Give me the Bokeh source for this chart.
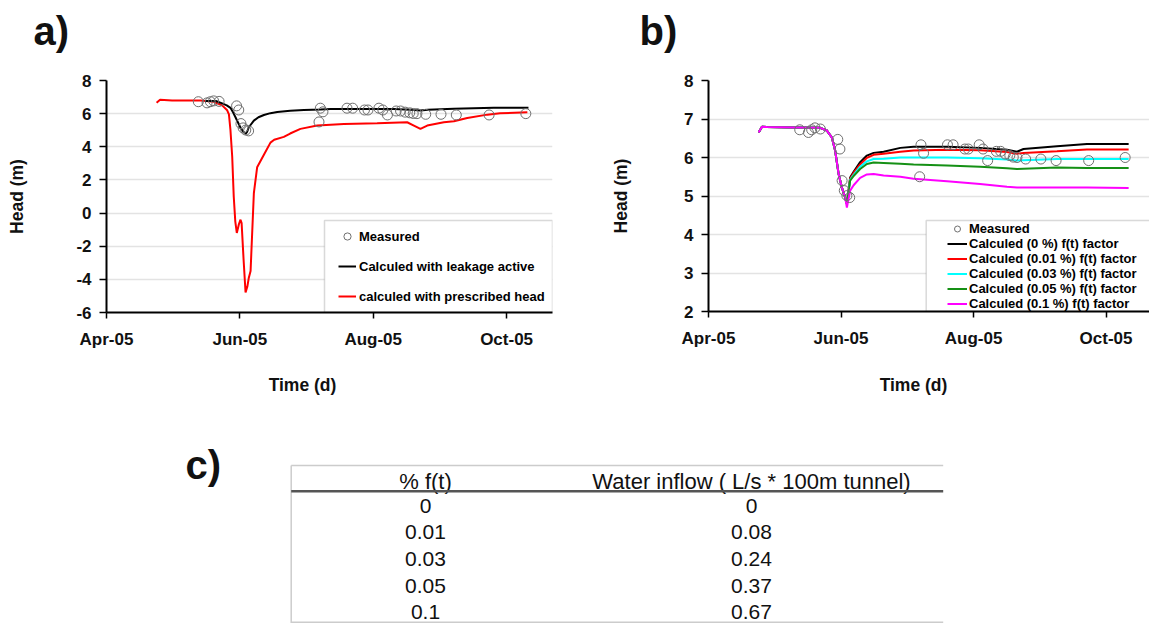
import numpy as np
import pandas as pd
from bokeh.plotting import figure
from bokeh.models import (Range1d, FixedTicker, DatetimeTickFormatter,
                          Legend, LegendItem, BoxAnnotation)
from bokeh.layouts import column, row
from bokeh.embed import file_html
from bokeh.resources import INLINE
from bokeh.core.properties import value

# ---------------- data (days counted from START) ----------------
START = "2005-04-01"
TICK_DATES = ["2005-04-01", "2005-06-01", "2005-08-01", "2005-10-01"]

MEAS_DAYS = [42, 46, 47.5, 49, 51.5, 59.5, 60.5, 61.5, 62.5, 63.7, 65, 97.2, 97.8, 99,
             110, 112.6, 118, 119.6, 124.6, 126.4, 128.5, 132.5, 134.5, 136.6, 138.7,
             140.3, 142, 146, 153, 160, 175, 191.8]
MEAS_HEAD = [6.72, 6.65, 6.72, 6.77, 6.74, 6.47, 6.22, 5.40, 5.14, 5.01, 4.96, 5.50, 6.33, 6.11,
             6.33, 6.33, 6.22, 6.22, 6.33, 6.22, 5.92, 6.16, 6.16, 6.09, 6.05,
             6.01, 6.00, 5.96, 5.96, 5.92, 5.92, 6.00]

# panel a
A_LEAK_DAYS = [45, 50, 52.9, 55, 56.7, 58, 59, 60.2, 61.3, 62.5, 63.6, 64.3, 65.1, 67.4, 69.5,
               72, 75, 78.1, 84, 90.3, 97.9, 102.5, 115, 131.4, 139, 143.6, 147, 158.9, 177.2, 193]
A_LEAK_HEAD = [6.76, 6.76, 6.62, 6.5, 6.35, 6.05, 5.78, 5.45, 5.15, 4.92, 4.78, 4.9, 5.18, 5.58, 5.78,
               5.92, 6.03, 6.1, 6.17, 6.22, 6.25, 6.28, 6.28, 6.28, 6.24, 6.19, 6.24, 6.29, 6.35, 6.35]
A_PRESC_DAYS = [22.9, 24.5, 30, 43, 49.1, 52.9, 55.2, 56.0, 56.7, 57.5, 58.2, 58.9, 59.6, 60.5, 61.3,
                61.8, 62.7, 63.6, 64.4, 65.1, 65.9, 66.6, 67.4, 68.9, 72.3, 75, 76.7, 81.1, 84, 88.7,
                96.4, 108.6, 123.8, 137.5, 140.6, 143.6, 146.7, 154.3, 158.9, 165, 174.2, 180, 192.5]
A_PRESC_HEAD = [6.66, 6.84, 6.8, 6.8, 6.72, 6.5, 6.2, 5.95, 5.0, 3.4, 1.0, -0.5, -1.2, -0.7, -0.4,
                -0.6, -2.8, -4.79, -4.45, -3.9, -3.5, -1.3, 1.2, 2.76, 3.6, 4.25, 4.42, 4.6, 4.8, 5.08,
                5.28, 5.38, 5.42, 5.48, 5.28, 5.08, 5.28, 5.48, 5.54, 5.74, 5.94, 6.02, 6.09]

# panel b : shared early part, then one tail per f(t) factor
B_EARLY_DAYS = [23.1, 24.6, 26.9, 40, 51.4, 54.5, 56.8, 58.3, 59.9, 61.4, 62.9]
B_EARLY_HEAD = [6.65, 6.80, 6.79, 6.78, 6.77, 6.70, 6.52, 6.18, 5.57, 5.22, 4.96]
B_TAIL_DAYS = [63.7, 65.2, 66.8, 69.8, 72.9, 76, 80.6, 88.3, 94.4, 109.8, 125, 137.4, 142, 145,
               160.4, 174.2, 193.4]
B_F000 = [4.80, 5.48, 5.63, 5.88, 6.05, 6.12, 6.15, 6.25, 6.28, 6.28, 6.25, 6.20, 6.15, 6.22, 6.29, 6.35, 6.35]
B_F001 = [4.80, 5.45, 5.60, 5.82, 5.99, 6.07, 6.10, 6.15, 6.18, 6.20, 6.19, 6.14, 6.10, 6.12, 6.16, 6.21, 6.21]
B_F003 = [4.80, 5.42, 5.55, 5.76, 5.90, 5.96, 5.97, 6.00, 6.00, 6.00, 5.98, 5.95, 5.92, 5.93, 5.96, 5.96, 5.96]
B_F005 = [4.80, 5.40, 5.52, 5.70, 5.83, 5.87, 5.86, 5.84, 5.82, 5.79, 5.76, 5.72, 5.70, 5.71, 5.74, 5.73, 5.73]
B_F010 = [4.70, 5.14, 5.28, 5.47, 5.56, 5.57, 5.53, 5.50, 5.45, 5.38, 5.31, 5.24, 5.22, 5.22, 5.22, 5.22, 5.21]
B_SERIES = [("Calculed (0 %) f(t) factor", B_F000, "#000000"),
            ("Calculed (0.01 %) f(t) factor", B_F001, "#ff0000"),
            ("Calculed (0.03 %) f(t) factor", B_F003, "#00ffff"),
            ("Calculed (0.05 %) f(t) factor", B_F005, "#159015"),
            ("Calculed (0.1 %) f(t) factor", B_F010, "#ff00ff")]

# panel c table
TABLE_HEAD = ["% f(t)", "Water inflow ( L/s * 100m tunnel)"]
FT_PCT = ["0", "0.01", "0.03", "0.05", "0.1"]
INFLOW = ["0", "0.08", "0.24", "0.37", "0.67"]

PANEL_TAGS = ["a)", "b)", "c)"]
X_TITLE = "Time (d)"
Y_TITLE = "Head (m)"

# ---------------- helpers ----------------
DAY_MS = 86400000.0
T0 = pd.Timestamp(START).value / 1e6
TICKS = [pd.Timestamp(d).value / 1e6 for d in TICK_DATES]
FONT = "Liberation Sans"
W = 1149
TOP_H = 62          # strip holding the a) / b) tags
ROW_H = 298         # row with the two charts
BOT_H = 623 - TOP_H - ROW_H


def t(days):
    return T0 + np.asarray(days, dtype=float) * DAY_MS


def make_fig(cfg):
    p = figure(x_axis_type="datetime",
               frame_width=cfg["fw"], frame_height=cfg["fh"],
               min_border_left=cfg["left"], min_border_right=cfg["right"],
               min_border_top=cfg["top"], min_border_bottom=cfg["bottom"],
               x_range=Range1d(T0, T0 + cfg["xdays"] * DAY_MS),
               y_range=Range1d(cfg["y0"], cfg["y1"]),
               toolbar_location=None, output_backend="svg")
    p.outline_line_color = None
    p.background_fill_color = "white"
    p.xgrid.visible = False
    yt = FixedTicker(ticks=cfg["yticks"], minor_ticks=[])
    xt = FixedTicker(ticks=TICKS, minor_ticks=[])
    p.yaxis.ticker = yt
    p.ygrid.ticker = yt
    p.xaxis.ticker = xt
    p.ygrid.grid_line_color = "#e3e3e3"
    p.ygrid.grid_line_width = 1.5
    p.xaxis.formatter = DatetimeTickFormatter(days="%b-%y", months="%b-%y", years="%b-%y")
    p.yaxis.major_label_overrides = {v: str(v) for v in cfg["yticks"]}
    for ax in p.axis:
        ax.axis_line_color = "black"
        ax.axis_line_width = 2
        ax.major_tick_line_color = "black"
        ax.major_tick_line_width = 1.5
        ax.major_tick_in = 0
        ax.minor_tick_line_color = None
        ax.major_label_text_font = FONT
        ax.major_label_text_font_style = "bold"
        ax.major_label_text_font_size = "17px"
        ax.major_label_text_color = "#111111"
    p.xaxis.major_tick_out = 6
    p.yaxis.major_tick_out = 7
    p.xaxis.major_label_standoff = 11
    p.yaxis.major_label_standoff = 8
    p.yaxis.axis_label = Y_TITLE
    p.yaxis.axis_label_text_font = FONT
    p.yaxis.axis_label_text_font_style = "bold"
    p.yaxis.axis_label_text_font_size = "17.5px"
    p.yaxis.axis_label_text_color = "#111111"
    p.yaxis.axis_label_standoff = cfg["ylab_standoff"]

    fl = cfg["page_x0"] + cfg["left"]

    def px(x):
        return T0 + (x - fl) / cfg["fw"] * cfg["xdays"] * DAY_MS

    def py(y):
        return cfg["y1"] - (y - (TOP_H + cfg["top"])) / cfg["fh"] * (cfg["y1"] - cfg["y0"])
    return p, px, py


CFG_A = dict(page_x0=0, left=106, top=18, fw=446, fh=232, right=40, bottom=ROW_H - 18 - 232,
             xdays=204, y0=-6, y1=8, yticks=[-6, -4, -2, 0, 2, 4, 6, 8], ylab_standoff=46)
CFG_B = dict(page_x0=592, left=116, top=18, fw=441, fh=231, right=0, bottom=ROW_H - 18 - 231,
             xdays=203.0, y0=2, y1=8, yticks=[2, 3, 4, 5, 6, 7, 8], ylab_standoff=50)

# ---------------- top strip (panel tags) ----------------
ps = figure(frame_width=W, frame_height=TOP_H, min_border=0,
            x_range=Range1d(0, W), y_range=Range1d(TOP_H, 0),
            x_axis_location=None, y_axis_location=None,
            toolbar_location=None, output_backend="svg")
ps.grid.visible = False
ps.outline_line_color = None
ps.text(x=[33, 639], y=[30.5, 30.5], text=PANEL_TAGS[:2], text_font=value(FONT),
        text_font_style="bold", text_font_size=value("40px"), text_align="left",
        text_baseline="middle", text_color="#111111")

# ---------------- panel a ----------------
pa, ax_, ay_ = make_fig(CFG_A)
ra_presc = pa.line(t(A_PRESC_DAYS), A_PRESC_HEAD, line_color="#ff0000", line_width=2)
ra_leak = pa.line(t(A_LEAK_DAYS), A_LEAK_HEAD, line_color="#000000", line_width=2)
ra_meas = pa.scatter(t(MEAS_DAYS), MEAS_HEAD, marker="circle", size=10, fill_color=None,
                     line_color="#6f6f6f", line_width=1)
pa.add_layout(BoxAnnotation(left=ax_(324), right=T0 + CFG_A["xdays"] * DAY_MS,
                            bottom=CFG_A["y0"], top=ay_(220), fill_color="white", fill_alpha=1,
                            line_color="#808080", line_width=1.5, level="underlay"))
leg_a = Legend(items=[LegendItem(label="Measured", renderers=[ra_meas]),
                      LegendItem(label="Calculed with leakage active", renderers=[ra_leak]),
                      LegendItem(label="calculed with prescribed head", renderers=[ra_presc])],
               location=(232, 1), padding=0, spacing=0, margin=0,
               glyph_width=18, glyph_height=30, label_height=30, label_standoff=3,
               label_text_font=FONT, label_text_font_style="bold", label_text_font_size="13px",
               label_text_color="#000000", border_line_alpha=0, background_fill_alpha=0)
pa.add_layout(leg_a)

# ---------------- panel b ----------------
pb, bx_, by_ = make_fig(CFG_B)
b_rends = []
for name, tail, col in B_SERIES:
    r = pb.line(t(B_EARLY_DAYS + B_TAIL_DAYS), B_EARLY_HEAD + tail, line_color=col, line_width=2)
    b_rends.append((name, r))
rb_meas = pb.scatter(t(MEAS_DAYS), MEAS_HEAD, marker="circle", size=10, fill_color=None,
                     line_color="#6f6f6f", line_width=1)
pb.add_layout(BoxAnnotation(left=bx_(925.7), right=T0 + (CFG_B["xdays"] + 30) * DAY_MS,
                            bottom=CFG_B["y0"], top=by_(220), fill_color="white", fill_alpha=1,
                            line_color="#808080", line_width=1.5, level="underlay"))
leg_b = Legend(items=[LegendItem(label="Measured", renderers=[rb_meas])] +
               [LegendItem(label=n, renderers=[r]) for n, r in b_rends],
               location=(239, 0), padding=0, spacing=0, margin=0,
               glyph_width=20, glyph_height=15, label_height=15, label_standoff=2,
               label_text_font=FONT, label_text_font_style="bold", label_text_font_size="13px",
               label_text_color="#000000", border_line_alpha=0, background_fill_alpha=0)
pb.add_layout(leg_b)

# ---------------- bottom part: axis titles + table c ----------------
y_top = TOP_H + ROW_H
pc = figure(frame_width=W, frame_height=BOT_H, min_border=0,
            x_range=Range1d(0, W), y_range=Range1d(623, y_top),
            x_axis_location=None, y_axis_location=None,
            toolbar_location=None, output_backend="svg")
pc.grid.visible = False
pc.outline_line_color = None

pc.text(x=[302, 913], y=[384.5, 384.5], text=[X_TITLE, X_TITLE], text_font=value(FONT),
        text_font_style="bold", text_font_size=value("17.5px"), text_align="center",
        text_baseline="middle", text_color="#111111")
pc.text(x=[185], y=[464], text=[PANEL_TAGS[2]], text_font=value(FONT),
        text_font_style="bold", text_font_size=value("40px"), text_align="left",
        text_baseline="middle", text_color="#111111")

COL_X = [425, 751]
TBL_L, TBL_R = 290.7, 942.7
pc.segment(x0=[TBL_L, TBL_L, TBL_L], y0=[465, 465, 621.7], x1=[TBL_R, TBL_L, TBL_R],
           y1=[465, 623, 621.7], line_color="#cccccc", line_width=1.5)
pc.text(x=COL_X, y=[480.5, 480.5], text=TABLE_HEAD, text_font=value(FONT),
        text_font_size=value("22px"), text_align="center", text_baseline="middle",
        text_color="#111111")
pc.segment(x0=[TBL_L], y0=[490.7], x1=[TBL_R], y1=[490.7], line_color="#555555", line_width=2.5)
rows_y = [505.3 + 26.6 * i for i in range(len(FT_PCT))]
pc.text(x=[COL_X[0]] * len(FT_PCT), y=rows_y, text=FT_PCT, text_font=value(FONT),
        text_font_size=value("21px"), text_align="center", text_baseline="middle",
        text_color="#111111")
pc.text(x=[COL_X[1]] * len(INFLOW), y=rows_y, text=INFLOW, text_font=value(FONT),
        text_font_size=value("21px"), text_align="center", text_baseline="middle",
        text_color="#111111")

layout = column(ps, row(pa, pb), pc)
open("out.html", "w").write(file_html(layout, INLINE))
